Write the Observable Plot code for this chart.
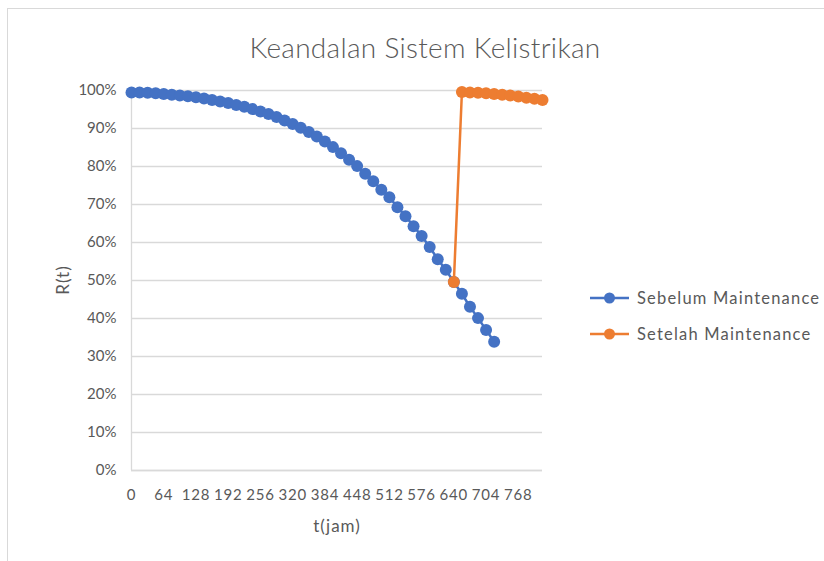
<!DOCTYPE html>
<html>
<head>
<meta charset="utf-8">
<script src="https://cdn.jsdelivr.net/npm/d3@7"></script>
<script src="https://cdn.jsdelivr.net/npm/@observablehq/plot@0.6"></script>
<style>
  html, body { margin: 0; padding: 0; background: #fff; }
  #wrap { position: relative; width: 824px; height: 561px; overflow: hidden; font-family: Lato, "Open Sans", sans-serif; color: #595959; }
  #frame { position: absolute; left: 7px; top: 8px; width: 830px; height: 570px; border-top: 1px solid #d9d9d9; border-left: 1px solid #d9d9d9; }
  #chart { position: absolute; left: 0; top: 0; }
  #chart svg g[aria-label="x-axis tick label"] text { letter-spacing: 0.8px; }
  .title { position: absolute; left: 425px; top: 47px; transform: translate(-50%, -50%); font-size: 28px; font-weight: 300; letter-spacing: 0.3px; white-space: nowrap; }
  .ylab { position: absolute; left: 62px; top: 280px; transform: translate(-50%, -50%) rotate(-90deg); font-size: 17px; letter-spacing: 1px; white-space: nowrap; }
  .xlab { position: absolute; left: 337px; top: 525px; transform: translate(-50%, -50%); font-size: 17px; letter-spacing: 1px; white-space: nowrap; }
  .leg { position: absolute; left: 590px; display: flex; align-items: center; font-size: 16.5px; letter-spacing: 1.2px; white-space: nowrap; transform: translateY(-50%); }
  .leg svg { margin-right: 8px; }
</style>
</head>
<body>
<div id="wrap">
  <div id="frame"></div>
  <div id="chart"></div>
  <div class="title">Keandalan Sistem Kelistrikan</div>
  <div class="ylab">R(t)</div>
  <div class="xlab">t(jam)</div>
  <div class="leg" style="top:298px"><svg width="39" height="12"><line x1="0" y1="6" x2="39" y2="6" stroke="#4472c4" stroke-width="2.5"/><circle cx="19.5" cy="6" r="5.5" fill="#4472c4"/></svg>Sebelum Maintenance</div>
  <div class="leg" style="top:334px"><svg width="39" height="12"><line x1="0" y1="6" x2="39" y2="6" stroke="#ed7d31" stroke-width="2.5"/><circle cx="19.5" cy="6" r="5.5" fill="#ed7d31"/></svg>Setelah Maintenance</div>
</div>
<script>
// Data (t in jam, R(t) as fraction)
const tBefore = [0,16,32,48,64,80,96,112,128,144,160,176,192,208,224,240,256,272,288,304,320,336,352,368,384,400,416,432,448,464,480,496,512,528,544,560,576,592,608,624,640,656,672,688,704,720];
const rBefore = [0.995,0.995,0.994,0.993,0.991,0.989,0.987,0.985,0.982,0.979,0.975,0.971,0.967,0.962,0.957,0.951,0.945,0.938,0.930,0.921,0.912,0.902,0.891,0.879,0.866,0.851,0.835,0.818,0.801,0.781,0.761,0.739,0.719,0.693,0.669,0.643,0.617,0.588,0.556,0.528,0.496,0.465,0.431,0.401,0.370,0.339];
const tAfter = [640,656,672,688,704,720,736,752,768,784,800,816];
const rAfter = [0.496,0.996,0.995,0.994,0.993,0.991,0.989,0.987,0.984,0.981,0.978,0.975];
const xTicks = [0,64,128,192,256,320,384,448,512,576,640,704,768];
const yTicks = [0,0.1,0.2,0.3,0.4,0.5,0.6,0.7,0.8,0.9,1.0];

const before = tBefore.map((t, i) => ({t, r: rBefore[i]}));
const after = tAfter.map((t, i) => ({t, r: rAfter[i]}));

const blue = "#4472c4", orange = "#ed7d31", grid = "#d9d9d9", txt = "#595959";

const chart = Plot.plot({
  width: 824,
  height: 561,
  marginLeft: 131,
  marginRight: 282,
  marginTop: 90,
  marginBottom: 91,
  style: { fontFamily: "Lato, 'Open Sans', sans-serif", fontSize: "14px", color: txt, background: "transparent" },
  x: { domain: [0, 816] },
  y: { domain: [0, 1] },
  marks: [
    Plot.gridY(yTicks, { stroke: grid, strokeOpacity: 1, strokeWidth: 1.3 }),
    Plot.ruleX([0], { stroke: grid, strokeWidth: 1.3 }),
    Plot.ruleY([0], { stroke: grid, strokeWidth: 1.3 }),
    Plot.axisY(yTicks, { tickFormat: d3.format(".0%"), tickSize: 0, tickPadding: 15, label: null, fill: txt, fontSize: 15 }),
    Plot.axisX(xTicks, { tickSize: 0, tickPadding: 19, label: null, fill: txt, fontSize: 15 }),
    Plot.line(before, { x: "t", y: "r", stroke: blue, strokeWidth: 2.5 }),
    Plot.dot(before, { x: "t", y: "r", r: 6, fill: blue }),
    Plot.line(after, { x: "t", y: "r", stroke: orange, strokeWidth: 2.5 }),
    Plot.dot(after, { x: "t", y: "r", r: 6, fill: orange })
  ]
});
document.getElementById("chart").appendChild(chart);
</script>
</body>
</html>
